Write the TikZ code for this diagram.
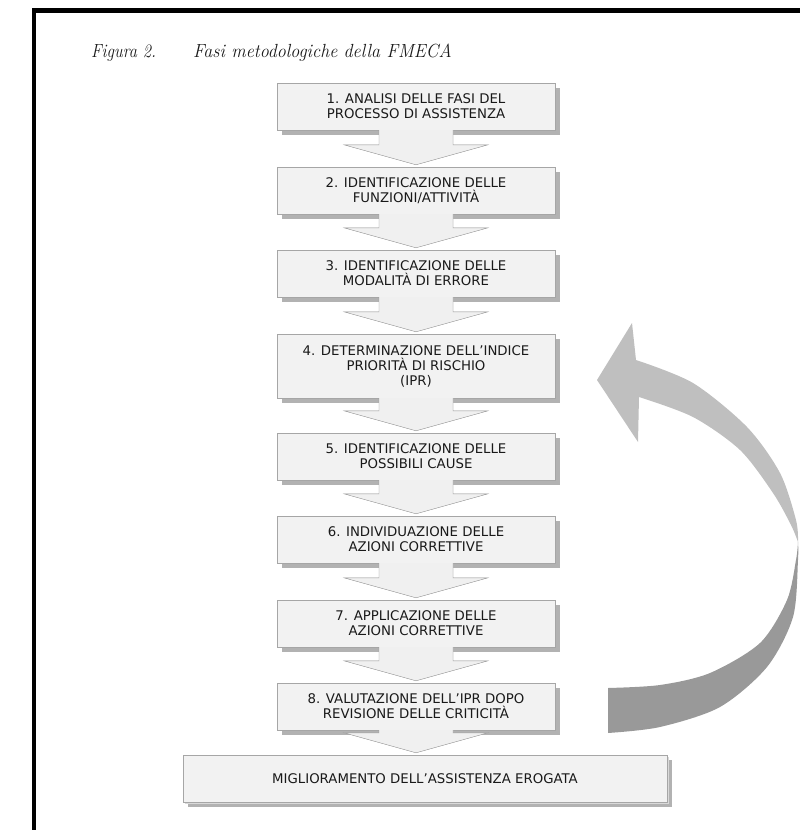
\documentclass[tikz,border=0pt]{standalone}
\usepackage{fontspec}
\usepackage{graphicx}
\newfontfamily\boxfont{DejaVu Sans}
\usetikzlibrary{calc,shadows}

\tikzset{
  stepbox/.style={draw=black!35, fill=black!5, align=center, inner sep=2pt,
    minimum width=278pt, text=black!90, font=\boxfont\fontsize{13.3}{15}\selectfont,
    drop shadow={shadow xshift=5pt, shadow yshift=-5pt, fill=black!30, opacity=1}},
  chevbody/.style={draw=black!40, fill=black!6},
  chevshade/.style={fill=black!30, xshift=4pt, yshift=-3pt},
  titlefont/.style={anchor=base west, inner sep=0, text=black!90,
    font=\fontsize{19}{21}\selectfont\itshape}
}

% down arrow from the box #1 to the box #2
\newcommand{\chev}[3]{%
  \path[#3] ($(#1.south)+(-37,0)$) -- ($(#1.south|-#2.north)+(-37,-22)$) -- ++(-35,0)
    -- ($(#1.south|-#2.north)+(0,-2)$) -- ($(#1.south|-#2.north)+(72,-22)$) -- ++(-35,0)
    -- ($(#1.south)+(37,0)$);}

\begin{document}
\begin{tikzpicture}[x=1pt, y=-1pt]
  \useasboundingbox (0,0) rectangle (800,830);
  \draw[line width=4.5pt] (34,830) -- (34,10.5) -- (800,10.5);

  \node[titlefont] (fig) at (91,57) {\scalebox{0.87}[1]{Figura 2.}};
  \node[titlefont] (tit) at (193,57) {\scalebox{0.95}[1]{Fasi metodologiche della FMECA}};

  \foreach \i/\y/\h/\t in {
      1/106.5/47/{1. ANALISI DELLE FASI DEL\\PROCESSO DI ASSISTENZA},
      2/190.5/47/{2. IDENTIFICAZIONE DELLE\\FUNZIONI/ATTIVITÀ},
      3/273.5/47/{3. IDENTIFICAZIONE DELLE\\MODALITÀ DI ERRORE},
      4/366/64/{4. DETERMINAZIONE DELL’INDICE\\PRIORITÀ DI RISCHIO\\(IPR)},
      5/456.5/47/{5. IDENTIFICAZIONE DELLE\\POSSIBILI CAUSE},
      6/539.5/47/{6. INDIVIDUAZIONE DELLE\\AZIONI CORRETTIVE},
      7/623.5/47/{7. APPLICAZIONE DELLE\\AZIONI CORRETTIVE},
      8/706.5/47/{8. VALUTAZIONE DELL’IPR DOPO\\REVISIONE DELLE CRITICITÀ}}
    \node[stepbox, minimum height=\h pt] (s\i) at (416,\y) {\t};

  \node[stepbox, minimum width=484pt, minimum height=47pt,
    drop shadow={shadow xshift=2pt, shadow yshift=-2pt, fill=black!15, opacity=1}]
    (mig) at (425,778.5) {MIGLIORAMENTO DELL’ASSISTENZA EROGATA};

  \foreach \a/\b in {s1/s2,s2/s3,s3/s4,s4/s5,s5/s6,s6/s7,s7/s8,s8/mig} {
    \chev{\a}{\b}{chevshade}
    \chev{\a}{\b}{chevbody}
  }

  % feedback arrow, light upper half and dark lower half
  \fill[black!25] (597,380) -- (632,323) -- (636,360)
    -- plot[smooth] coordinates {(636,360) (693,383) (747,427) (780,473) (796,520) (798,542)}
    -- plot[smooth] coordinates {(798,542) (791,525) (773,493) (740,450) (693,417) (639,397)}
    -- (638,442) -- cycle;
  \fill[black!40] plot[smooth] coordinates {(798,542) (798,560) (793,617) (767,667) (720,707) (660,727) (608,733)}
    -- plot[smooth] coordinates {(608,688) (660,685) (710,673) (760,643) (787,600) (796,560) (798,542)}
    -- cycle;
\end{tikzpicture}
\end{document}
